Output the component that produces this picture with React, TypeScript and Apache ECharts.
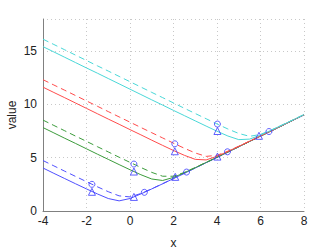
import React, { useEffect, useRef } from "react";
import * as echarts from "echarts";

const xs = [-4, -3.5, -3, -2.5, -2, -1.5, -1, -0.5, 0, 0.5, 1, 1.5, 2, 2.5, 3, 3.5, 4, 4.5, 5, 5.5, 6, 6.5, 7, 7.5, 8];

const blueSolid = [4.03, 3.53, 3.04, 2.55, 2.07, 1.6, 1.17, 0.95, 1.17, 1.6, 2.07, 2.55, 3.04, 3.53, 4.03, 4.53, 5.02, 5.52, 6.02, 6.52, 7.02, 7.51, 8.01, 8.51, 9.01];
const blueDashed = [4.73, 4.23, 3.73, 3.24, 2.75, 2.27, 1.81, 1.42, 1.32, 1.64, 2.08, 2.56, 3.05, 3.54, 4.03, 4.53, 5.02, 5.52, 6.02, 6.52, 7.02, 7.52, 8.01, 8.51, 9.01];
const greenSolid = [7.82, 7.32, 6.82, 6.33, 5.83, 5.33, 4.84, 4.35, 3.87, 3.4, 3.0, 2.86, 3.15, 3.59, 4.06, 4.55, 5.04, 5.53, 6.03, 6.52, 7.02, 7.52, 8.02, 8.52, 9.02];
const greenDashed = [8.52, 8.02, 7.52, 7.02, 6.53, 6.03, 5.54, 5.04, 4.56, 4.08, 3.62, 3.26, 3.26, 3.62, 4.08, 4.56, 5.04, 5.54, 6.03, 6.53, 7.02, 7.52, 8.02, 8.52, 9.02];
const redSolid = [11.61, 11.11, 10.62, 10.12, 9.62, 9.12, 8.62, 8.13, 7.63, 7.14, 6.64, 6.15, 5.67, 5.22, 4.84, 4.79, 5.13, 5.58, 6.06, 6.55, 7.04, 7.53, 8.03, 8.52, 9.02];
const redDashed = [12.31, 11.81, 11.32, 10.82, 10.32, 9.82, 9.32, 8.82, 8.33, 7.83, 7.34, 6.85, 6.36, 5.88, 5.44, 5.12, 5.22, 5.61, 6.07, 6.55, 7.04, 7.54, 8.03, 8.53, 9.02];
const cyanSolid = [15.41, 14.91, 14.41, 13.91, 13.41, 12.92, 12.42, 11.92, 11.42, 10.92, 10.42, 9.93, 9.43, 8.94, 8.45, 7.96, 7.48, 7.03, 6.69, 6.74, 7.12, 7.58, 8.06, 8.54, 9.04];
const cyanDashed = [16.11, 15.61, 15.11, 14.61, 14.11, 13.61, 13.12, 12.62, 12.12, 11.62, 11.12, 10.63, 10.13, 9.63, 9.14, 8.65, 8.16, 7.69, 7.27, 7.0, 7.18, 7.6, 8.07, 8.55, 9.04];

const triangleMarks = [[-1.75, 1.8], [0.18, 1.32], [0.18, 3.7], [2.08, 3.2], [2.06, 5.6], [4.02, 5.1], [4.02, 7.5], [5.93, 7.05]];
const circleMarks = [[-1.75, 2.5], [0.66, 1.75], [0.18, 4.4], [2.6, 3.65], [2.06, 6.3], [4.48, 5.55], [4.02, 8.15], [6.39, 7.45]];

const xTicks = ["-4", "-2", "0", "2", "4", "6", "8"];
const yTicks = ["0", "5", "10", "15"];

const FONT = "Liberation Sans, Arial, sans-serif";

export default function App() {
  const ref = useRef<HTMLDivElement>(null);
  useEffect(() => {
    if (!ref.current) return;
    const chart = echarts.init(ref.current, undefined, { renderer: "svg" });
    const zip = (ys: number[]) => xs.map((x, i) => [x, ys[i]]);
    const lineSeries = (data: number[], color: string, dashed: boolean) => ({
      type: "line",
      data: zip(data),
      showSymbol: false,
      symbol: "none",
      lineStyle: { color, width: 1, type: dashed ? [6, 4] : "solid" },
      z: 2,
    });
    const markerColor = "#3a3aff";
    chart.setOption({
      animation: false,
      grid: { left: 43, right: 32, top: 19, bottom: 41, containLabel: false, outerBoundsMode: "none" },
      xAxis: {
        type: "value",
        min: -4,
        max: 8,
        interval: 2,
        name: "x",
        nameLocation: "middle",
        nameGap: 26,
        nameTextStyle: { color: "#222", fontSize: 12, fontFamily: FONT },
        axisLine: { show: true, onZero: false, lineStyle: { color: "#808080", width: 1 } },
        axisTick: { show: false },
        axisLabel: {
          color: "#222",
          fontSize: 12,
          fontFamily: FONT,
          margin: 4,
          formatter: (v: number) => (xTicks.includes(String(v)) ? String(v) : ""),
        },
        splitLine: { show: true, lineStyle: { color: "#c8c8c8", type: [1, 3], width: 1 } },
      },
      yAxis: {
        type: "value",
        min: 0,
        max: 18,
        interval: 5,
        name: "value",
        nameLocation: "middle",
        nameGap: 25,
        nameMoveOverlap: false,
        nameTextStyle: { color: "#222", fontSize: 12, fontFamily: FONT },
        axisLine: { show: true, onZero: false, lineStyle: { color: "#808080", width: 1 } },
        axisTick: { show: false },
        axisLabel: {
          color: "#222",
          fontSize: 12,
          fontFamily: FONT,
          margin: 6,
          formatter: (v: number) => (yTicks.includes(String(v)) ? String(v) : ""),
        },
        splitLine: { show: true, lineStyle: { color: "#c8c8c8", type: [1, 3], width: 1 } },
      },
      series: [
        lineSeries(blueSolid, "#5050ff", false),
        lineSeries(blueDashed, "#5050ff", true),
        lineSeries(greenSolid, "#3c9c3c", false),
        lineSeries(greenDashed, "#3c9c3c", true),
        lineSeries(redSolid, "#ff4c4c", false),
        lineSeries(redDashed, "#ff4c4c", true),
        lineSeries(cyanSolid, "#4ad8d8", false),
        lineSeries(cyanDashed, "#4ad8d8", true),
        {
          type: "scatter",
          data: triangleMarks,
          symbol: "triangle",
          symbolSize: 7,
          itemStyle: { color: "rgba(0,0,0,0)", borderColor: markerColor, borderWidth: 1 },
          z: 5,
        },
        {
          type: "scatter",
          data: circleMarks,
          symbol: "circle",
          symbolSize: 6,
          itemStyle: { color: "rgba(0,0,0,0)", borderColor: markerColor, borderWidth: 1 },
          z: 5,
        },
      ],
    });
    return () => chart.dispose();
  }, []);
  return <div ref={ref} style={{ width: 336, height: 252, position: "absolute", left: 0, top: 0 }} />;
}
